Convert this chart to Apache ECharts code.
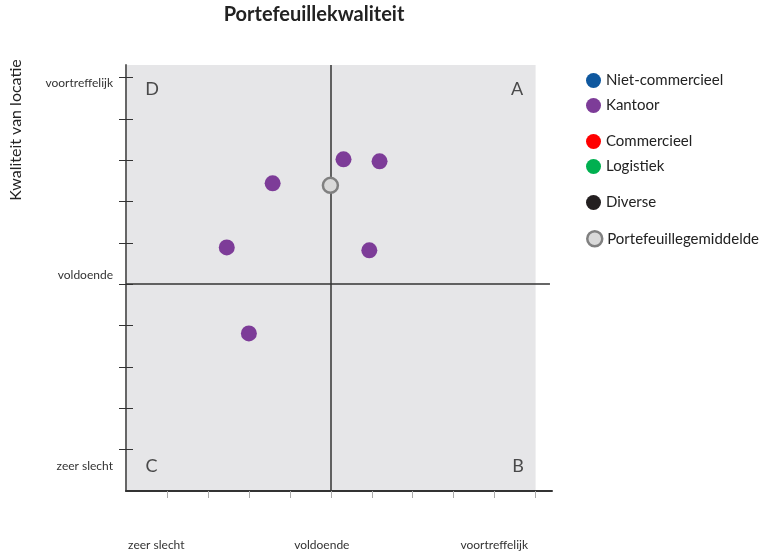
<!DOCTYPE html>
<html>
<head>
<meta charset="utf-8">
<script src="https://cdn.jsdelivr.net/npm/echarts@6/dist/echarts.min.js"></script>
<style>html,body{margin:0;padding:0;background:#fff}#c{width:761px;height:554px}</style>
</head>
<body>
<div id="c"></div>
<script>
// ---- data ----
const titleText = 'Portefeuillekwaliteit';
const yAxisTitle = 'Kwaliteit van locatie';
const xTickLabels = ['zeer slecht', 'voldoende', 'voortreffelijk'];
const yTickLabels = ['zeer slecht', 'voldoende', 'voortreffelijk'];
const seriesNames = ['Niet-commercieel', 'Kantoor', 'Commercieel', 'Logistiek', 'Diverse', 'Portefeuillegemiddelde'];
const nietCommercieel = [];
const kantoor = [[5.31, 8.02], [6.19, 7.97], [3.58, 7.44], [2.46, 5.89], [5.94, 5.82], [3.00, 3.81]];
const commercieel = [];
const logistiek = [];
const diverse = [];
const gemiddelde = [[4.99, 7.39]];
const quadrantLetters = ['D', 'A', 'C', 'B'];
const quadrantPositions = [[0.64, 9.71], [9.55, 9.71], [0.62, 0.61], [9.57, 0.61]];

// ---- layout / styles ----
const FONT = 'Lato';
const xLabelPos = [0.74, 4.78, 8.99];
const yLabelPos = [0.59, 5.23, 9.85];
const tickVals = [1, 2, 3, 4, 5, 6, 7, 8, 9, 10];
const colors = ['#0f589f', '#7d3c98', '#ff0000', '#00b050', '#231f20', '#d9d9d9'];
const legendTops = [81, 106, 142, 167, 203, 238];

function labelFor(positions, labels) {
  return function (v) {
    for (let i = 0; i < positions.length; i++) {
      if (Math.abs(positions[i] - v) < 1e-6) return labels[i];
    }
    return '';
  };
}

const chart = echarts.init(document.getElementById('c'), null, { renderer: 'canvas' });

const legends = seriesNames.map((n, i) => ({
  data: [n],
  left: 586,
  top: legendTops[i] - 8,
  padding: 0,
  orient: 'vertical',
  itemWidth: 15,
  itemHeight: 15,
  icon: 'circle',
  selectedMode: false,
  textStyle: { fontFamily: FONT, fontSize: 15, color: '#222' },
  itemStyle: i === 5
    ? { color: colors[i], borderColor: '#808080', borderWidth: 2.5 }
    : { color: colors[i], borderWidth: 0 }
}));

const mk = (name, data, color, extra) => Object.assign({
  name: name,
  type: 'scatter',
  data: data,
  symbol: 'circle',
  symbolSize: 16,
  itemStyle: { color: color, opacity: 1 },
  emphasis: { disabled: true }
}, extra || {});

const option = {
  animation: false,
  backgroundColor: '#ffffff',
  title: {
    text: titleText,
    left: 314,
    textAlign: 'center',
    top: 5,
    padding: 0,
    textStyle: { fontFamily: FONT, fontWeight: 'bold', fontSize: 20, color: '#222' }
  },
  legend: legends,
  grid: { left: 126, right: 209, top: 65, bottom: 63, containLabel: false },
  xAxis: {
    type: 'value', min: 0, max: 10.4,
    axisLine: { show: true, onZero: false, lineStyle: { color: '#333', width: 2 } },
    axisTick: { show: true, customValues: tickVals, length: 7, lineStyle: { color: '#aaa', width: 1 } },
    axisLabel: {
      show: true, customValues: xLabelPos, formatter: labelFor(xLabelPos, xTickLabels),
      margin: 48, fontFamily: FONT, fontSize: 12, color: '#333'
    },
    splitLine: { show: false }
  },
  yAxis: [{
    type: 'value', min: 0, max: 10.3,
    axisLine: { show: true, onZero: false, lineStyle: { color: '#666', width: 2 } },
    axisTick: { show: true, customValues: tickVals, length: 7, lineStyle: { color: '#333', width: 1 } },
    axisLabel: {
      show: true, customValues: yLabelPos, formatter: labelFor(yLabelPos, yTickLabels),
      margin: 13, fontFamily: FONT, fontSize: 12, color: '#333'
    },
    splitLine: { show: false }
  }, {
    type: 'value', min: 0, max: 10.3, position: 'left',
    axisLine: { show: false },
    axisTick: { show: true, inside: true, customValues: tickVals, length: 7, lineStyle: { color: '#333', width: 1 } },
    axisLabel: { show: false },
    splitLine: { show: false }
  }],
  graphic: [{
    type: 'text',
    x: 16, y: 130,
    rotation: Math.PI / 2,
    style: { text: yAxisTitle, fontFamily: FONT, fontSize: 16, fill: '#222', textAlign: 'center', textVerticalAlign: 'middle' }
  }],
  series: [
    mk(seriesNames[0], nietCommercieel, colors[0]),
    mk(seriesNames[1], kantoor, colors[1], {
      z: 3,
      markArea: {
        silent: true,
        itemStyle: { color: '#e6e6e8' },
        data: [[{ coord: [0, 0] }, { coord: [10, 10.3] }]],
        z: 0
      },
      markLine: {
        silent: true,
        symbol: 'none',
        label: { show: false },
        lineStyle: { color: '#333', width: 1.5, type: 'solid' },
        data: [
          [{ coord: [5, 0] }, { coord: [5, 10.3] }],
          [{ coord: [0, 5] }, { coord: [10.35, 5] }]
        ]
      }
    }),
    mk(seriesNames[2], commercieel, colors[2]),
    mk(seriesNames[3], logistiek, colors[3]),
    mk(seriesNames[4], diverse, colors[4]),
    mk(seriesNames[5], gemiddelde, colors[5], {
      z: 6,
      symbolSize: 15,
      itemStyle: { color: colors[5], borderColor: '#808080', borderWidth: 2.5, opacity: 1 }
    }),
    {
      name: 'kwadranten',
      type: 'scatter',
      data: quadrantPositions.map((p, i) => ({ value: p, name: quadrantLetters[i] })),
      symbolSize: 0,
      silent: true,
      label: {
        show: true, position: 'inside', formatter: '{b}',
        fontFamily: FONT, fontSize: 18, color: '#222'
      }
    }
  ]
};
chart.setOption(option);
</script>
</body>
</html>
